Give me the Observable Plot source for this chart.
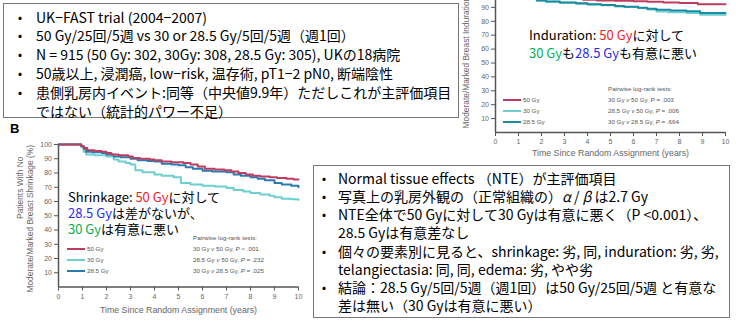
<!DOCTYPE html>
<html><head><meta charset="utf-8">
<script src="https://cdn.jsdelivr.net/npm/d3@7"></script>
<script src="https://cdn.jsdelivr.net/npm/@observablehq/plot@0.6"></script>
<style>
html,body{margin:0;padding:0;background:#fff;}
#page{position:relative;width:736px;height:322px;overflow:hidden;background:#fff;font-family:"Noto Sans CJK JP","Liberation Sans",sans-serif;color:#000;}
.chart{position:absolute;}
.chart svg{overflow:visible;}
.box{position:absolute;border:1px solid #777;background:#fff;box-sizing:border-box;z-index:5;}
.ln{position:relative;white-space:nowrap;font-size:14px;}
.bul{position:absolute;font-size:12px;}
.ov{position:absolute;white-space:nowrap;font-size:13px;z-index:4;}
.leg{position:absolute;font-family:"Liberation Sans",Arial,sans-serif;font-size:6.2px;line-height:8px;color:#555;white-space:nowrap;z-index:3;}
.legline{position:absolute;height:2.5px;}
.panel{position:absolute;font-family:"Liberation Sans",Arial,sans-serif;font-weight:bold;font-size:13px;z-index:3;}
</style>
</head><body>
<div id="page"></div>
<script>
// ---------- data ----------
const seriesNames = ["50 Gy", "30 Gy", "28.5 Gy"];
const xTicks = [0,1,2,3,4,5,6,7,8,9,10];
const shrinkYTicks = [10,20,30,40,50,60,70,80,90,100];
const indYTicks = [10,20,30,40,50,60,70,80,90];

// Panel B: breast shrinkage
const shrinkT50 = [0,0.95,1.05,1.2,1.5,1.8,2.0,2.2,2.5,2.9,3.1,3.4,3.8,4.0,4.3,4.7,5.2,5.5,5.8,6.1,6.5,6.9,7.2,7.5,7.8,8.1,8.4,8.8,9.1,9.5,9.8,10];
const shrinkV50 = [100,99,97.5,96,95.5,95,94,93,92.5,91.5,90.5,90,89.5,89,88,87.5,87,86,84.5,83,82.5,82,81,80,79,78,77.5,77,76.5,76,75.5,75.5];
const shrinkT30 = [0,0.95,1.05,1.15,1.5,2.0,2.3,2.5,2.8,3.0,3.2,3.5,4.0,4.3,4.8,5.1,5.5,6.0,6.5,7.0,7.3,7.7,8.0,8.4,8.8,9.0,9.3,9.7,10];
const shrinkV30 = [100,98,95,93,92.5,91.5,89.5,88,87,86,82,80.5,79,78,77,73,72,71,70.5,69.5,68,67,66,65,64,63,62,61.5,61];
const shrinkT285 = [0,0.95,1.05,1.15,1.4,1.8,2.0,2.3,2.6,3.0,3.3,3.7,4.0,4.3,4.7,5.0,5.3,5.6,6.0,6.4,7.0,7.3,7.6,8.0,8.3,8.6,9.0,9.3,9.7,10];
const shrinkV285 = [100,99,97,95,94.5,94,93,91.5,91,90,89,88.5,88,86.5,86,85.5,84,83,81.5,81,80.5,79,78,77,76,75,73,72,71,70];

// Induration
const indT50 = [0,1.0,1.4,2.0,2.6,3.2,3.8,4.4,5.2,6.0,6.6,7.3,8.0,8.8,10];
const indV50 = [100,99,98,97,96.5,96,95.5,95,94.8,94.5,94,93.5,93.2,92.2,92.2];
const indT30 = [0,0.9,1.1,1.4,1.8,2.2,2.8,3.5,4.0,4.6,5.2,5.6,6.2,6.6,7.0,7.5,8.3,8.9,10];
const indV30 = [100,99,97.5,96,95,94,93.4,92.7,92,91.5,90.7,90.2,89.5,88.5,87,86.5,86,84.8,84.6];
const indT285 = [0,0.9,1.1,1.4,1.8,2.2,2.8,3.5,4.0,4.6,5.2,5.6,6.2,6.6,7.0,7.6,8.3,8.9,10];
const indV285 = [100,99,97.5,96,95,94.2,93.6,93,92.3,91.7,91,90.4,89.8,89,88.3,87.8,87.2,86,86];

const shrinkColors = ["#bf3d5e", "#6dcfd0", "#2b7bb3"];
const indColors = ["#bf3d5e", "#6dcfd0", "#1d8aa3"];

const shrinkTests = ["Pairwise log-rank tests:", "30 Gy v 50 Gy, P < .001", "28.5 Gy v 50 Gy, P = .232", "30 Gy v 28.5 Gy, P = .025"];
const indTests = ["Pairwise log-rank tests:", "30 Gy v 50 Gy, P = .003", "28.5 Gy v 50 Gy, P = .006", "30 Gy v 28.5 Gy, P = .664"];

const xTitle = "Time Since Random Assignment (years)";
const shrinkYTitle1 = "Patients With No";
const shrinkYTitle2 = "Moderate/Marked Breast Shrinkage (%)";
const indYTitle = "Moderate/Marked Breast Induration (%)";

const topBullets = [
  ["UK−FAST trial (2004−2007)"],
  ["50 Gy/25回/5週 vs 30 or 28.5 Gy/5回/5週（週1回）"],
  ["N = 915 (50 Gy: 302, 30Gy: 308, 28.5 Gy: 305), UKの18病院"],
  ["50歳以上, 浸潤癌, low−risk, 温存術, pT1−2 pN0, 断端陰性"],
  ["患側乳房内イベント:同等（中央値9.9年）ただしこれが主評価項目", "ではない（統計的パワー不足）"]
];
const bottomBullets = [
  ["Normal tissue effects （NTE）が主評価項目"],
  ["写真上の乳房外観の（正常組織の）<i>α</i> / <i>β</i> は2.7 Gy"],
  ["NTE全体で50 Gyに対して30 Gyは有意に悪く（P &lt;0.001）、", "28.5 Gyは有意差なし"],
  ["個々の要素別に見ると、shrinkage: 劣, 同, induration: 劣, 劣,", "telangiectasia: 同, 同, edema: 劣, やや劣"],
  ["結論：28.5 Gy/5回/5週（週1回）は50 Gy/25回/5週 と有意な", "差は無い（30 Gyは有意に悪い）"]
];

// ---------- helpers ----------
const page = document.getElementById("page");
function rows(ts, vs, s) { return ts.map((t, i) => ({t, v: vs[i], s})); }
const chartFont = '"Liberation Sans",Arial,sans-serif';

function km(data, colors, yTicks, yLabels, o) {
  return Plot.plot({
    width: o.width, height: o.height,
    marginLeft: o.ml, marginRight: o.mr, marginTop: o.mt, marginBottom: o.mb,
    x: {domain: [0, 10]},
    y: {domain: [0, 100]},
    color: {domain: seriesNames, range: colors},
    style: {fontFamily: chartFont, fontSize: "7px", color: "#666", background: "transparent", overflow: "visible"},
    marks: [
      Plot.axisX({ticks: xTicks, tickSize: 4, tickPadding: 3, label: null, stroke: "#555"}),
      Plot.axisY({ticks: yTicks, tickSize: 4, tickPadding: 2.5, label: null, stroke: "#555"}),
      Plot.line(data, {x: "t", y: "v", z: "s", stroke: "s", curve: "step-after", strokeWidth: 2}),
      Plot.ruleY([0], {stroke: "#555", strokeWidth: 1.5}),
      Plot.ruleX([0], {y1: 0, y2: 100, stroke: "#555", strokeWidth: 1.5}),
      Plot.text([xTitle], {frameAnchor: "bottom", dy: o.xtDy, fontSize: 8.8, fill: "#666"}),
      ...yLabels.map(l => Plot.text([l.text], {frameAnchor: l.anchor, rotate: -90, textAnchor: l.textAnchor, lineAnchor: "middle", dx: l.dx, dy: l.dy, fontSize: 8.4, fill: "#666"}))
    ]
  });
}

// ---------- Panel B chart (shrinkage) ----------
const shrinkData = [
  ...rows(shrinkT30, shrinkV30, "30 Gy"),
  ...rows(shrinkT285, shrinkV285, "28.5 Gy"),
  ...rows(shrinkT50, shrinkV50, "50 Gy")
];
const c1 = document.createElement("div");
c1.className = "chart"; c1.style.left = "0px"; c1.style.top = "130px";
c1.appendChild(km(shrinkData, shrinkColors, shrinkYTicks, [
    {text: shrinkYTitle1, anchor: "left", textAnchor: "middle", dx: -38, dy: -28},
    {text: shrinkYTitle2, anchor: "left", textAnchor: "middle", dx: -28, dy: 3}
  ],
  {width: 310, height: 193, ml: 58, mr: 12, mt: 14, mb: 36.5, xtDy: 25.5}));
page.appendChild(c1);

// ---------- induration chart ----------
const indData = [
  ...rows(indT30, indV30, "30 Gy"),
  ...rows(indT285, indV285, "28.5 Gy"),
  ...rows(indT50, indV50, "50 Gy")
];
const c2 = document.createElement("div");
c2.className = "chart"; c2.style.left = "455px"; c2.style.top = "-27px";
c2.appendChild(km(indData, indColors, indYTicks, [
    {text: indYTitle, anchor: "bottom-left", textAnchor: "start", dx: -29, dy: -4}
  ],
  {width: 280, height: 199, ml: 40, mr: 10, mt: 20, mb: 40, xtDy: 23}));
page.appendChild(c2);

// ---------- legends ----------
function legend(x, y, dy, colors, tx, tests) {
  seriesNames.forEach((n, i) => {
    const l = document.createElement("div");
    l.className = "legline";
    l.style.left = x + "px"; l.style.top = (y + i * dy - 1.25) + "px";
    l.style.width = "18px"; l.style.background = colors[i];
    page.appendChild(l);
    const t = document.createElement("div");
    t.className = "leg"; t.textContent = n;
    t.style.left = (x + 20) + "px"; t.style.top = (y + i * dy - 4) + "px";
    page.appendChild(t);
  });
  tests.forEach((s, i) => {
    const t = document.createElement("div");
    t.className = "leg";
    t.innerHTML = s.replace(/ v /, " <i>v</i> ").replace(/P ([<=])/, "<i>P</i> $1");
    t.style.left = tx + "px"; t.style.top = (y + (i - 1) * dy - 4) + "px";
    page.appendChild(t);
  });
}
legend(67, 249, 11, shrinkColors, 193, shrinkTests);
legend(503, 100, 11, indColors, 608, indTests);

// panel letter
const pb = document.createElement("div");
pb.className = "panel"; pb.textContent = "B";
pb.style.left = "10px"; pb.style.top = "121px";
page.appendChild(pb);

// ---------- overlay annotations ----------
function overlay(x, y, lh, lines) {
  lines.forEach((s, i) => {
    const d = document.createElement("div");
    d.className = "ov";
    d.style.left = x + "px"; d.style.top = (y + i * lh) + "px";
    d.style.lineHeight = lh + "px"; d.style.height = lh + "px";
    d.innerHTML = s;
    page.appendChild(d);
  });
}
const R = s => `<span style="color:#ee1c24">${s}</span>`;
const G = s => `<span style="color:#00b050">${s}</span>`;
const B = s => `<span style="color:#1f2bf0">${s}</span>`;
overlay(529, 26, 18, [
  `Induration: ${R("50 Gy")}に対して`,
  `${G("30 Gy")}も${B("28.5 Gy")}も有意に悪い`
]);
overlay(68, 189, 16, [
  `Shrinkage: ${R("50 Gy")}に対して`,
  `${B("28.5 Gy")}は差がないが、`,
  `${G("30 Gy")}は有意に悪い`
]);

// ---------- text boxes ----------
function box(x, y, w, h, padTop, lh, bx, tx, items) {
  const b = document.createElement("div");
  b.className = "box";
  Object.assign(b.style, {left: x + "px", top: y + "px", width: w + "px", height: h + "px", paddingTop: padTop + "px"});
  items.forEach(lines => {
    lines.forEach((s, j) => {
      const l = document.createElement("div");
      l.className = "ln";
      l.style.lineHeight = lh + "px"; l.style.height = lh + "px";
      l.style.paddingLeft = tx + "px";
      l.innerHTML = s;
      if (j === 0) {
        const bu = document.createElement("span");
        bu.className = "bul"; bu.textContent = "•";
        bu.style.left = bx + "px";
        l.appendChild(bu);
      }
      b.appendChild(l);
    });
  });
  page.appendChild(b);
}
box(3, 3, 456, 115, 3.6, 18.8, 14, 32, topBullets);
box(313, 165, 417, 153, 2.9, 18.2, 8, 24, bottomBullets);
</script>
</body></html>
